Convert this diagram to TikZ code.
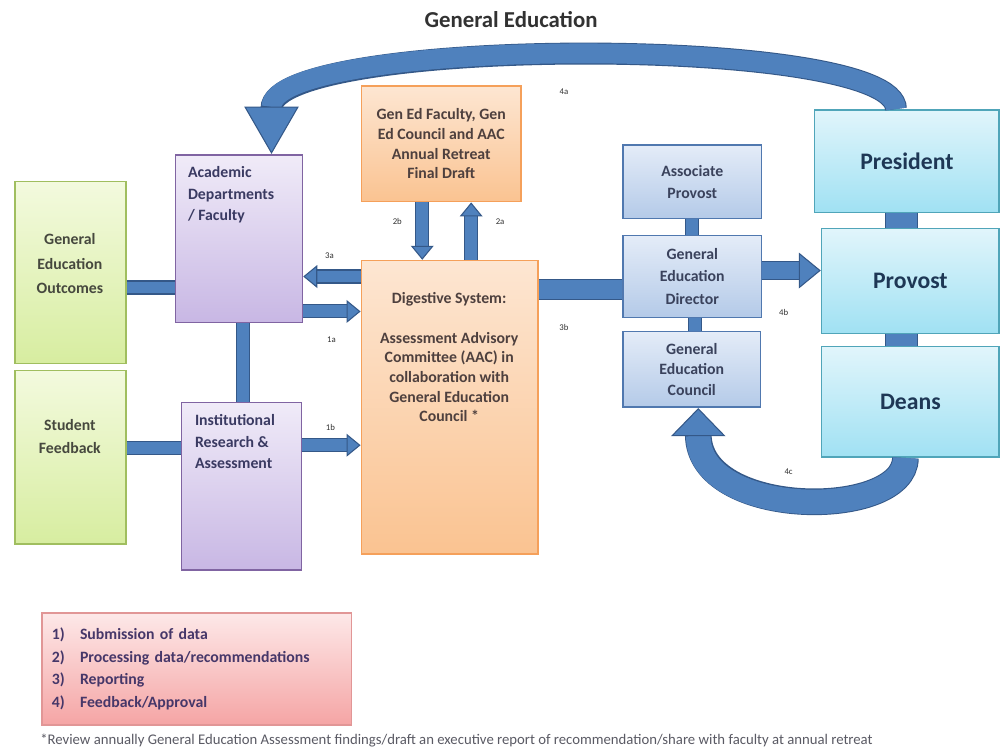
\documentclass[tikz,border=0pt]{standalone}
\usepackage{fontspec}
\setmainfont{Carlito}
\usepackage{xcolor}
\definecolor{barblue}{RGB}{79,129,189}
\definecolor{baredge}{RGB}{52,88,136}
\definecolor{greenline}{RGB}{160,190,95}
\definecolor{greentop}{RGB}{243,250,222}
\definecolor{greenbot}{RGB}{215,237,160}
\definecolor{greentext}{RGB}{70,72,62}
\definecolor{purpleline}{RGB}{128,100,162}
\definecolor{purpletop}{RGB}{240,235,248}
\definecolor{purplebot}{RGB}{200,183,228}
\definecolor{purpletext}{RGB}{58,58,98}
\definecolor{orangeline}{RGB}{245,160,90}
\definecolor{orangetop}{RGB}{253,230,210}
\definecolor{orangebot}{RGB}{250,195,145}
\definecolor{orangetext}{RGB}{78,64,62}
\definecolor{blueline}{RGB}{80,120,175}
\definecolor{bluetop}{RGB}{228,236,248}
\definecolor{bluebot}{RGB}{180,202,232}
\definecolor{bluetext}{RGB}{58,66,92}
\definecolor{cyanline}{RGB}{80,165,185}
\definecolor{cyantop}{RGB}{225,245,251}
\definecolor{cyanbot}{RGB}{160,225,243}
\definecolor{cyantext}{RGB}{30,55,85}
\definecolor{pinkline}{RGB}{225,150,150}
\definecolor{pinktop}{RGB}{253,232,232}
\definecolor{pinkbot}{RGB}{245,165,165}
\definecolor{pinktext}{RGB}{70,55,105}
\definecolor{titlegray}{RGB}{50,50,50}
\definecolor{notegray}{RGB}{90,90,100}
\usepackage{tikz}
\usetikzlibrary{arrows.meta}

\begin{document}
\begin{tikzpicture}[x=0.02cm, y=-0.02cm]
% Configuration
\tikzset{
  box/.style={draw, rectangle, line width=0.9pt, inner sep=0pt, align=center,
    font=\fontsize{9}{12.5}\selectfont\bfseries},
  greenbox/.style={box, draw=greenline, top color=greentop, bottom color=greenbot, text=greentext},
  purplebox/.style={box, draw=purpleline, top color=purpletop, bottom color=purplebot, text=purpletext},
  orangebox/.style={box, draw=orangeline, top color=orangetop, bottom color=orangebot, text=orangetext},
  bluebox/.style={box, draw=blueline, top color=bluetop, bottom color=bluebot, text=bluetext},
  cyanbox/.style={box, draw=cyanline, top color=cyantop, bottom color=cyanbot, text=cyantext,
    font=\fontsize{13.5}{16}\selectfont\bfseries},
  pinkbox/.style={box, draw=pinkline, top color=pinktop, bottom color=pinkbot, text=pinktext},
  boxtext/.style={inner sep=0pt, align=center, font=\fontsize{9}{12.5}\selectfont\bfseries},
  flowlabel/.style={inner sep=0pt, text=titlegray, font=\fontsize{5}{6}\selectfont},
  link/.style 2 args={draw=barblue, line width=#1, preaction={draw=baredge, line width=#2}},
  flow/.style n args={5}{draw=barblue, line width=#1,
    -{Triangle[width=#3, length=#4, color=baredge, fill=barblue, line width=0.6pt]},
    preaction={draw=baredge, line width=#2, arrows=-, shorten >=#5}},
  smallflow/.style={flow={6.8pt}{8pt}{13pt}{8pt}{7pt}},
}

\fill[white] (0,0) rectangle (1000,751);

% Title
\node[inner sep=0pt, text=titlegray, font=\fontsize{13}{15}\selectfont\bfseries] (title) at (512,20) {General Education};

% Inputs
\node[greenbox, minimum width=2.22cm, minimum height=3.64cm] (geo) at (70.5,273) {};
\node[boxtext, text=greentext, font=\fontsize{9}{14.2}\selectfont\bfseries] (geotext) at (70,264) {General\\Education\\Outcomes};
\node[greenbox, minimum width=2.22cm, minimum height=3.48cm] (sf) at (70.5,458) {};
\node[boxtext, text=greentext, font=\fontsize{9}{13}\selectfont\bfseries] (sftext) at (70,437) {Student\\Feedback};

% Faculty and IR
\node[purplebox, minimum width=2.54cm, minimum height=3.36cm] (adf) at (239.5,239) {};
\node[boxtext, align=left, anchor=north west, text=purpletext] (adftext) at (188,166) {Academic\\Departments\\/ Faculty};
\node[purplebox, minimum width=2.4cm, minimum height=3.36cm] (ira) at (242,487) {};
\node[boxtext, align=left, anchor=north west, text=purpletext, font=\fontsize{9}{12.2}\selectfont\bfseries] (iratext) at (195,415) {Institutional\\Research \&\\Assessment};

% AAC
\node[orangebox, minimum width=3.2cm, minimum height=2.32cm, font=\fontsize{9}{11.3}\selectfont\bfseries] (gef) at (442,144) {Gen Ed Faculty, Gen\\Ed Council and AAC\\Annual Retreat\\Final Draft};
\node[orangebox, minimum width=3.54cm, minimum height=5.88cm] (dig) at (450.5,408) {};
\node[boxtext, text=orangetext, font=\fontsize{9}{11.2}\selectfont\bfseries] (digtext) at (450,358) {Digestive System:\\[11.2pt]Assessment Advisory\\Committee (AAC) in\\collaboration with\\General Education\\Council *};

% Gen Ed office
\node[bluebox, minimum width=2.78cm, minimum height=1.48cm] (ap) at (693.5,182) {Associate\\Provost};
\node[bluebox, minimum width=2.78cm, minimum height=1.64cm, font=\fontsize{9}{13}\selectfont\bfseries] (ged) at (693.5,277) {General\\Education\\Director};
\node[bluebox, minimum width=2.76cm, minimum height=1.52cm, font=\fontsize{9}{11.6}\selectfont\bfseries] (gec) at (693,370) {General\\Education\\Council};

% Administration
\node[cyanbox, minimum width=3.7cm, minimum height=2.06cm] (pres) at (908.5,161.5) {President};
\node[cyanbox, minimum width=3.56cm, minimum height=2.1cm] (prov) at (912,281.5) {Provost};
\node[cyanbox, minimum width=3.56cm, minimum height=2.22cm] (deans) at (912,402.5) {Deans};

% Key and note
\node[pinkbox, minimum width=6.2cm, minimum height=2.24cm, text width=5.8cm, align=left,
  font=\fontsize{9}{13}\selectfont\bfseries] (key) at (197,670)
  {\makebox[16pt][l]{1)}Submission of data\\
   \makebox[16pt][l]{2)}Processing data/recommendations\\
   \makebox[16pt][l]{3)}Reporting\\
   \makebox[16pt][l]{4)}Feedback/Approval};
\node[anchor=west, inner sep=0pt, text=notegray, font=\fontsize{8.4}{10}\selectfont] (note) at (40,742)
  {*Review annually General Education Assessment findings/draft an executive report of recommendation/share with faculty at annual retreat};

% Connections
\draw[link={6.8pt}{8pt}] (geo.east |- 0,288) -- (adf.west |- 0,288);
\draw[link={6.8pt}{8pt}] (sf.east |- 0,449) -- (ira.west |- 0,449);
\draw[link={6.8pt}{8pt}] (adf.south -| 243,0) -- (ira.north -| 243,0);
\draw[smallflow] (dig.west |- 0,277) -- (adf.east |- 0,277);
\draw[smallflow] (adf.east |- 0,312) -- (dig.west |- 0,312);
\draw[smallflow] (ira.east |- 0,446) -- (dig.west |- 0,446);
\draw[smallflow] (gef.south -| 423,0) -- (dig.north -| 423,0);
\draw[smallflow] (dig.north -| 472,0) -- (gef.south -| 472,0);
\draw[link={10.8pt}{12pt}] (dig.east |- 0,290) -- (ged.west |- 0,290);
\draw[link={6.8pt}{8pt}] (ap.south) -- (ged.north);
\draw[link={6.8pt}{8pt}] (ged.south -| 696,0) -- (gec.north -| 696,0);
\draw[flow={9.6pt}{10.8pt}{20.4pt}{12.5pt}{11.5pt}] (ged.east |- 0,271) -- (prov.west |- 0,271);
\draw[link={18pt}{19.2pt}] (pres.south -| 903,0) -- (prov.north -| 903,0);
\draw[link={18pt}{19.2pt}] (prov.south -| 903,0) -- (deans.north -| 903,0);
\draw[flow={11.3pt}{12.5pt}{31pt}{27pt}{26pt}] ([xshift=-0.22cm]pres.north)
  .. controls +(0,-75) and +(0,-118) .. ([xshift=0.65cm]adf.north);
\draw[flow={14pt}{15.2pt}{31pt}{16pt}{15pt}] ([xshift=-0.1cm]deans.south)
  .. controls +(0,62) and +(0,112) .. ([xshift=0.13cm]gec.south);

% Step labels
\node[flowlabel] (l4a) at (565,92) {4a};
\node[flowlabel] (l3a) at (330,256) {3a};
\node[flowlabel] (l1a) at (332,340) {1a};
\node[flowlabel] (l1b) at (331,428) {1b};
\node[flowlabel] (l2b) at (398,222) {2b};
\node[flowlabel] (l2a) at (501,222) {2a};
\node[flowlabel] (l3b) at (565,328) {3b};
\node[flowlabel] (l4b) at (785,313) {4b};
\node[flowlabel] (l4c) at (790,473) {4c};
\end{tikzpicture}
\end{document}
